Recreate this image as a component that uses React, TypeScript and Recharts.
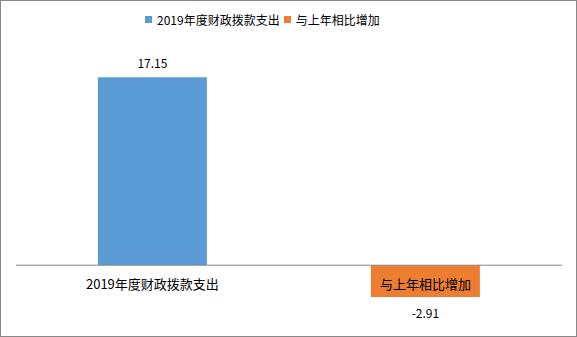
import { BarChart, Bar, Cell, XAxis, YAxis, ReferenceLine, LabelList } from "recharts";

const categories = ["2019年度财政拨款支出", "与上年相比增加"];
const values = [17.15, -2.91];
const colors = ["#5B9BD5", "#ED7D31"];
const yDomain = [-5, 20];

const FONT = '"Noto Sans CJK SC", "Noto Sans", sans-serif';

const data = categories.map((name, i) => ({ name, value: values[i] }));

// 柱子上方/下方的数值 + 零线下的类别名
function BarText(props: any) {
  const vb = props.viewBox ?? props;
  const { x, y, width, height } = vb;
  const i = props.index ?? 0;
  const v = values[i];
  const top = Math.min(y, y + height);
  const bottom = Math.max(y, y + height);
  const zeroY = v >= 0 ? bottom : top;
  const cx = x + width / 2;
  const valueY = v >= 0 ? top - 15 : bottom + 15;
  return (
    <g>
      <text
        x={cx}
        y={valueY}
        textAnchor="middle"
        dominantBaseline="central"
        fontSize={12}
        fill="#000"
        fontFamily={FONT}
      >
        {v.toFixed(2)}
      </text>
      <text
        x={cx}
        y={zeroY + 18}
        textAnchor="middle"
        dominantBaseline="central"
        fontSize={13}
        fill="#000"
        fontFamily={FONT}
      >
        {categories[i]}
      </text>
    </g>
  );
}

export default function App() {
  return (
    <div
      style={{
        position: "fixed",
        left: 0,
        top: 0,
        width: 577,
        height: 337,
        boxSizing: "border-box",
        border: "1px solid #888",
        background: "#fff",
        fontFamily: FONT,
      }}
    >
      {/* 图例 */}
      <div
        style={{
          position: "absolute",
          left: 144,
          top: 10,
          display: "flex",
          alignItems: "center",
          fontSize: 12,
          color: "#000",
          whiteSpace: "nowrap",
        }}
      >
        {categories.map((c, i) => (
          <span key={c} style={{ display: "flex", alignItems: "center", marginRight: 4 }}>
            <span
              style={{ width: 7, height: 7, background: colors[i], display: "inline-block", marginRight: 5 }}
            />
            {c}
          </span>
        ))}
      </div>
      <div style={{ position: "absolute", left: -1, top: -1 }}>
        <BarChart
          width={577}
          height={337}
          data={data}
          margin={{ top: 46, right: 15, bottom: 17, left: 16 }}
          barCategoryGap="30%"
        >
          <XAxis dataKey="name" hide />
          <YAxis type="number" domain={yDomain} hide />
          <ReferenceLine y={0} stroke="#898989" strokeWidth={1} />
          <Bar dataKey="value" isAnimationActive={false}>
            {data.map((d, i) => (
              <Cell key={d.name} fill={colors[i]} />
            ))}
            <LabelList dataKey="value" content={<BarText />} />
          </Bar>
        </BarChart>
      </div>
    </div>
  );
}
